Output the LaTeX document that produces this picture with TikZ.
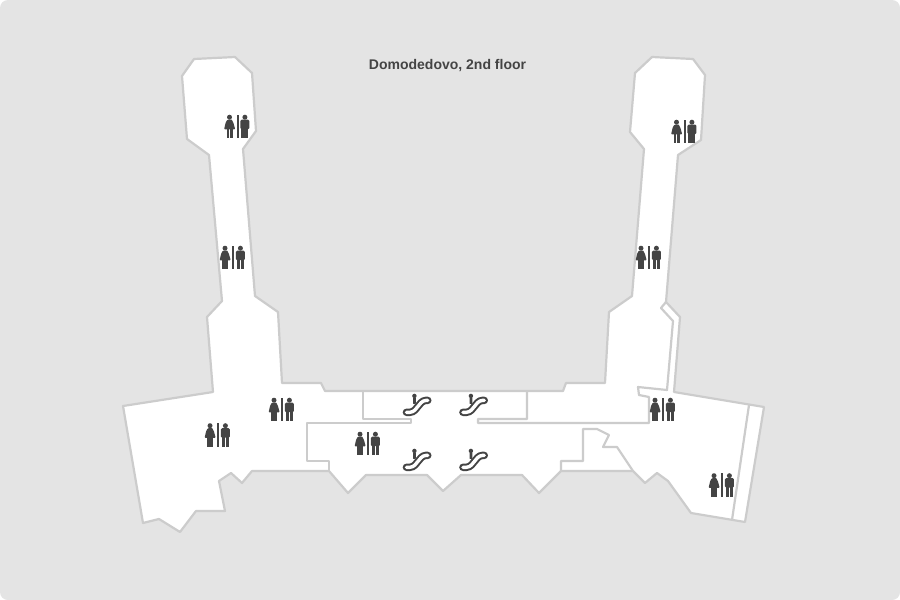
\documentclass[tikz,border=0pt]{standalone}
\usepackage{fontspec}
\setmainfont{Liberation Sans}
\usepackage{tikz}
\usetikzlibrary{positioning}
\definecolor{floorbg}{HTML}{E4E4E4}
\definecolor{wallgray}{HTML}{CCCCCC}
\definecolor{icongray}{HTML}{444444}
\tikzset{wall/.style={draw=wallgray, line width=2.2pt, line join=round},
icon/.style={fill=icongray, draw=none},
%toilet sign, centred on its bar
wcsign/.pic={
  \fill[icon] (-1,-11.7) rectangle (1,11.7);
  \fill[icon] (-8,-9.3) circle (2.5);
  \fill[icon] (-10.2,-6.8) -- (-5.8,-6.8) [rounded corners=0.8pt] -- (-4.2,-4) -- (-2.3,2.8) -- (-13.4,2.8) -- (-11.8,-4) -- cycle;
  \fill[icon] (-10.8,2) rectangle (-8.2,11.7);
  \fill[icon] (-7.6,2) rectangle (-5,11.7);
  \fill[icon] (7.4,-9.3) circle (2.5);
  \fill[icon, rounded corners=1.2pt] (2.9,-6.8) rectangle (11.9,2.6);
  \fill[icon] (3.9,-3) rectangle (7.2,11.7);
  \fill[icon] (7.6,-3) rectangle (10.9,11.7);
},
%escalator, centred on its box
escalator/.pic={
  \draw[icongray, line width=2pt, double=white, double distance=3.4pt, line cap=round, rounded corners=3pt] (-10.6,7.3) -- (-4,7.3) -- (6,-4.6) -- (10.8,-4.6);
  \fill[icon] (-2.6,-9.1) circle (2.2);
  \fill[icon, rounded corners=0.5pt] (-4,-7.6) rectangle (-1.2,-1.2);
}}

\begin{document}
\begin{tikzpicture}[x=1pt, y=-1pt]
\useasboundingbox (0,0) rectangle (900,600);
\fill[white] (0,0) rectangle (900,600);
\fill[floorbg, rounded corners=8pt] (0,0) rectangle (900,600);

\node[text=icongray, font=\fontsize{14}{16}\selectfont\bfseries] (title) at (447.5,65.5) {Domodedovo, 2nd floor};

% floor outline
\filldraw[wall, fill=white] (194,59) -- (235,57) -- (252,73) -- (256,131) -- (243,149) -- (255,296) -- (278,312) -- (282,383) -- (321,383) -- (325,391)
  -- (563,391) -- (566,383) -- (605,383) -- (609,312) -- (632,296) -- (644,149) -- (630,132) -- (635,73) -- (652,57) -- (693,59) -- (705,75) -- (701,140) -- (678,155)
  -- (666,302) -- (680,317) -- (674,392) -- (764,407) -- (745,522) -- (691,513) -- (668,481) -- (657,473) -- (645,483) -- (633,471)
  -- (561,471) -- (539,493) -- (522,475) -- (461,475) -- (443,491) -- (427,475) -- (366,475) -- (348,493) -- (329,471) -- (252,471)
  -- (242,483) -- (231,473) -- (219,481) -- (225,511) -- (196,511) -- (180,532) -- (159,519) -- (143,523) -- (123,406) -- (213,392) -- (207,317) -- (222,301)
  -- (209,155) -- (187,139) -- (182,76) -- cycle;

% inner walls
\draw[wall] (363,391) -- (363,419) -- (411,419) -- (411,423) -- (307,423) -- (307,461) -- (329,461) -- (329,471);
\draw[wall] (527,391) -- (527,419) -- (478,419) -- (478,423) -- (649,423) -- (649,397) -- (639,395) -- (638,387) -- (667,390) -- (673,321) -- (661,308) -- (666,302);
\draw[wall] (561,471) -- (561,461) -- (583,461) -- (583,429) -- (597,429) -- (609,435) -- (603,447) -- (617,447) -- (633,471);
\draw[wall] (749,405) -- (732,520);

\pic (wcA) at (237.5,126.5) {wcsign};
\pic (wcB) at (233,257.5) {wcsign};
\pic (wcC) at (218,435) {wcsign};
\pic (wcD) at (282,409.5) {wcsign};
\pic (wcE) at (368,443.5) {wcsign};
\pic (wcF) at (649,257.5) {wcsign};
\pic (wcG) at (684.5,131.5) {wcsign};
\pic (wcH) at (663,409.5) {wcsign};
\pic (wcI) at (722,485) {wcsign};

\pic (escA) at (417,405) {escalator};
\pic (escB) at (473.5,405) {escalator};
\pic (escC) at (417,460) {escalator};
\pic (escD) at (473.5,460) {escalator};

\end{tikzpicture}
\end{document}
